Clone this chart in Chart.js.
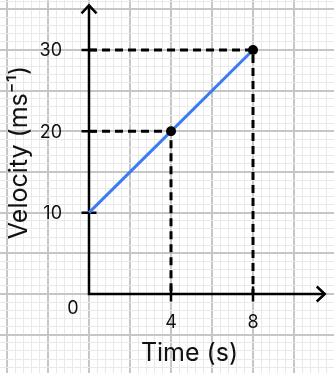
<!DOCTYPE html>
<html>
<head>
<meta charset="utf-8">
<script src="https://cdn.jsdelivr.net/npm/chart.js@4"></script>
<style>
  html, body { margin: 0; padding: 0; background: #fff; }
  #wrap { width: 334px; height: 373px; position: relative; }
</style>
</head>
<body>
<div id="wrap"><canvas id="velocityChart"></canvas></div>
<script>
// data
const timeValues = [0, 4, 8];
const velocityValues = [10, 20, 30];
const guidePoints = [1, 2]; // points that get dashed guide lines to both axes
const xTickLabels = [4, 8];
const yTickLabels = [10, 20, 30];
const xTitle = 'Time (s)';
const yTitle = 'Velocity (ms\u207B\u00B9)';

const FONT = 'Inter, "Liberation Sans", sans-serif';

function isMultiple(v, step) {
  const r = v / step;
  return Math.abs(r - Math.round(r)) < 1e-6;
}

// axes with arrows, ticks and labels, drawn through the scales
const axesPlugin = {
  id: 'axes',
  beforeDatasetsDraw(chart) {
    const ctx = chart.ctx;
    const xs = chart.scales.x, ys = chart.scales.y;
    const x0 = xs.getPixelForValue(0), y0 = ys.getPixelForValue(0);
    const xEnd = xs.getPixelForValue(11.5), yEnd = ys.getPixelForValue(35.5);
    ctx.save();
    ctx.strokeStyle = '#000';
    ctx.lineWidth = 2.5;
    ctx.lineCap = 'butt';
    ctx.beginPath();
    ctx.moveTo(x0, y0); ctx.lineTo(x0, yEnd);
    ctx.moveTo(x0 - 1.25, y0); ctx.lineTo(xEnd, y0);
    ctx.stroke();
    // arrow heads
    ctx.beginPath();
    ctx.moveTo(x0 - 7.5, yEnd + 8); ctx.lineTo(x0, yEnd); ctx.lineTo(x0 + 7.5, yEnd + 8);
    ctx.moveTo(xEnd - 8, y0 - 7.5); ctx.lineTo(xEnd, y0); ctx.lineTo(xEnd - 8, y0 + 7.5);
    ctx.stroke();
    // tick marks
    ctx.beginPath();
    yTickLabels.forEach(v => {
      const y = ys.getPixelForValue(v);
      ctx.moveTo(x0 - 7.5, y); ctx.lineTo(x0 + 7.5, y);
    });
    xTickLabels.forEach(v => {
      const x = xs.getPixelForValue(v);
      ctx.moveTo(x, y0 - 7.5); ctx.lineTo(x, y0 + 7.5);
    });
    ctx.stroke();
    // tick labels
    ctx.fillStyle = '#111';
    ctx.font = '18px ' + FONT;
    ctx.textAlign = 'right';
    ctx.textBaseline = 'middle';
    yTickLabels.forEach(v => ctx.fillText(String(v), x0 - 27, ys.getPixelForValue(v) + 1));
    ctx.textAlign = 'center';
    xTickLabels.forEach(v => ctx.fillText(String(v), xs.getPixelForValue(v), y0 + 29));
    ctx.fillText('0', x0 - 16, y0 + 15);
    // axis titles
    ctx.font = '25px ' + FONT;
    ctx.fillText(xTitle, xs.getPixelForValue(4.9), y0 + 59);
    ctx.save();
    ctx.translate(xs.getPixelForValue(-3.4), ys.getPixelForValue(17.4));
    ctx.rotate(-Math.PI / 2);
    ctx.fillText(yTitle, 0, 0);
    ctx.restore();
    ctx.restore();
  }
};

const lineData = timeValues.map((t, i) => ({ x: t, y: velocityValues[i] }));
const guideSets = guidePoints.map(i => ({
  data: [
    { x: 0, y: velocityValues[i] },
    { x: timeValues[i], y: velocityValues[i] },
    { x: timeValues[i], y: 0 }
  ],
  showLine: true,
  borderColor: '#000',
  borderWidth: 3,
  borderDash: [8, 5],
  pointRadius: 0,
  tension: 0
}));

const ctxVel = document.getElementById('velocityChart').getContext('2d');
const velocityChart = new Chart(ctxVel, {
  type: 'scatter',
  data: {
    datasets: [{
      data: lineData,
      showLine: true,
      borderColor: '#3d7cf0',
      borderWidth: 3,
      pointRadius: ctx => ctx.dataIndex === 0 ? 0 : 5,
      pointBackgroundColor: '#000',
      pointBorderWidth: 0,
      tension: 0
    }, ...guideSets]
  },
  options: {
    responsive: true,
    maintainAspectRatio: false,
    animation: false,
    layout: { padding: 0, autoPadding: false },
    plugins: { legend: { display: false }, tooltip: { enabled: false } },
    scales: {
      x: {
        type: 'linear',
        min: -4.3415,
        max: 11.951,
        ticks: { display: false, stepSize: 0.4, includeBounds: false },
        border: { display: false },
        grid: {
          drawTicks: false,
          color: c => isMultiple(c.tick.value, 2) ? '#c6c6c6' : '#e9e9e9',
          lineWidth: c => isMultiple(c.tick.value, 2) ? 2 : 1
        }
      },
      y: {
        type: 'linear',
        min: -9.713,
        max: 36.148,
        ticks: { display: false, stepSize: 1, includeBounds: false },
        border: { display: false },
        grid: {
          drawTicks: false,
          color: c => isMultiple(c.tick.value, 5) ? '#c6c6c6' : '#e9e9e9',
          lineWidth: c => isMultiple(c.tick.value, 5) ? 2 : 1
        }
      }
    }
  },
  plugins: [axesPlugin]
});
</script>
</body>
</html>
